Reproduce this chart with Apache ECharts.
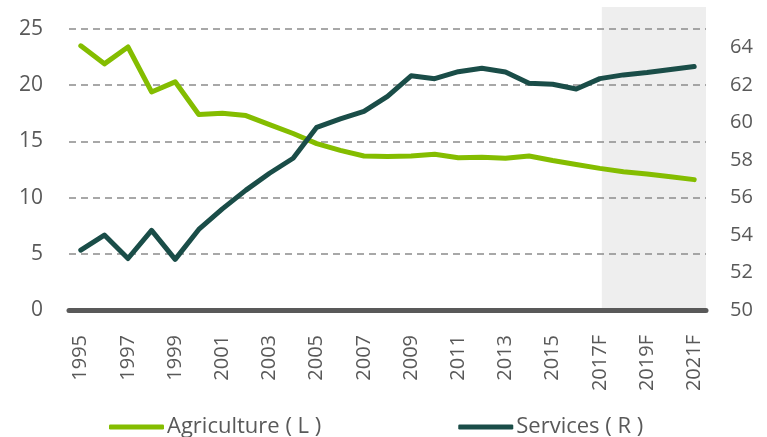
<!DOCTYPE html>
<html>
<head>
<meta charset="utf-8">
<script src="https://cdn.jsdelivr.net/npm/echarts@6/dist/echarts.min.js"></script>
<style>
  html, body { margin: 0; padding: 0; background: #fff; }
  #chart { width: 767px; height: 437px; }
</style>
</head>
<body>
<div id="chart"></div>
<script>
// years, last five are forecasts
var years = ['1995','1996','1997','1998','1999','2000','2001','2002','2003','2004',
             '2005','2006','2007','2008','2009','2010','2011','2012','2013','2014',
             '2015','2016','2017F','2018F','2019F','2020F','2021F'];

// share of GDP, left axis
var agriculture = [23.5, 21.9, 23.4, 19.4, 20.3, 17.4, 17.5, 17.3, 16.5, 15.7,
                   14.8, 14.2, 13.7, 13.65, 13.7, 13.85, 13.55, 13.6, 13.5, 13.7,
                   13.3, 12.95, 12.6, 12.3, 12.1, 11.85, 11.6];

// share of GDP, right axis
var services = [53.2, 54.0, 52.75, 54.25, 52.7, 54.3, 55.4, 56.4, 57.3, 58.1,
                59.75, 60.2, 60.6, 61.4, 62.5, 62.35, 62.72, 62.9, 62.7, 62.1,
                62.05, 61.8, 62.35, 62.55, 62.68, 62.84, 63.0];

var forecastStart = '2017F';

var txt = '#595959';
var font = '"Open Sans", "Noto Sans", sans-serif';

var chart = echarts.init(document.getElementById('chart'));

var option = {
    animation: false,
    grid: { left: 69, right: 61, top: 29, bottom: 127 },
    legend: {
        left: 104,
        top: 411,
        icon: 'roundRect',
        itemWidth: 55,
        itemHeight: 5,
        itemGap: 137,
        textStyle: { color: txt, fontSize: 22, fontFamily: font, padding: [0, 0, 0, -2] },
        data: ['Agriculture ( L )', 'Services ( R )']
    },
    xAxis: {
        type: 'category',
        data: years,
        boundaryGap: true,
        axisLine: { lineStyle: { color: '#595959', width: 5 } },
        axisTick: { show: false },
        axisLabel: {
            interval: 1,
            rotate: 90,
            margin: 25,
            color: txt,
            fontSize: 20,
            fontFamily: font
        }
    },
    yAxis: [
        {
            type: 'value',
            min: 0, max: 25, interval: 5,
            axisLine: { show: false },
            axisTick: { show: false },
            axisLabel: { color: txt, fontSize: 21, fontFamily: font, margin: 26 },
            splitLine: { lineStyle: { color: '#8c8c8c', type: [7, 5], width: 1.5 } }
        },
        {
            type: 'value',
            min: 50, max: 65, interval: 2,
            position: 'right',
            axisLine: { show: false },
            axisTick: { show: false },
            splitLine: { show: false },
            axisLabel: {
                color: txt, fontSize: 20, fontFamily: font, margin: 24,
                formatter: function (v) { return v > 64 ? '' : v; }
            }
        }
    ],
    series: [
        {
            name: 'Agriculture ( L )',
            type: 'line',
            yAxisIndex: 0,
            data: agriculture,
            symbol: 'none',
            z: 3,
            itemStyle: { color: '#84bd00' },
            lineStyle: { color: '#84bd00', width: 5, cap: 'round', join: 'round' }
        },
        {
            name: 'Services ( R )',
            type: 'line',
            yAxisIndex: 1,
            data: services,
            symbol: 'none',
            z: 4,
            itemStyle: { color: '#1a4d48' },
            lineStyle: { color: '#1a4d48', width: 5, cap: 'round', join: 'round' }
        }
    ]
};
chart.setOption(option);

// grey band behind the forecast years
var x0 = chart.convertToPixel({ xAxisIndex: 0 }, forecastStart);
var xEnd = 767 - option.grid.right;
var yBottom = chart.convertToPixel({ yAxisIndex: 0 }, 0);
chart.setOption({
    graphic: [{
        type: 'rect',
        z: -10,
        silent: true,
        shape: { x: x0 + 2, y: 7, width: xEnd - x0 - 2, height: yBottom - 7 },
        style: { fill: '#eeeeee' }
    }]
});
</script>
</body>
</html>
